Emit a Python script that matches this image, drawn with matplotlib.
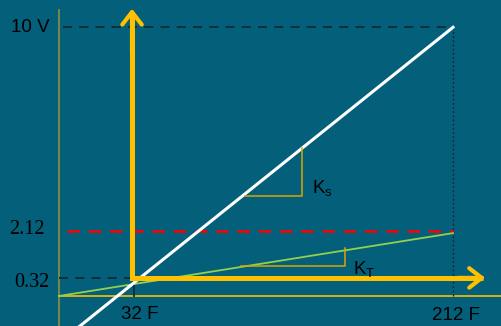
import matplotlib.pyplot as plt

# temperature (F) on x, voltage (V) on y
temp_ticks = [32, 212]
temp_labels = ["32 F", "212 F"]
volt_ticks = [0.32, 2.12, 10]
volt_labels = ["0.32", "2.12", "10 V"]

# origin of the drawing (thin axis lines)
t_axis = -9.0
v_axis = -0.38

# sensor (white) and transmitter (green) characteristics
sensor_T = [2.8, 212]
sensor_V = [-1.54, 10]
trans_T = [-9.0, 212]
trans_V = [-0.38, 2.05]

# slope triangles: (t_start, t_end, v_low, v_high)
ks_tri = (95.4, 127.3, 3.48, 5.34)
kt_tri = (93.1, 151.4, 0.78, 1.475)

bg = "#04607a"
yellow = "#ffc000"
dark = "#0f2a33"
gold = "#d9a400"

fig = plt.figure(figsize=(5.01, 3.26), dpi=100, facecolor=bg)
ax = fig.add_axes([0, 0, 1, 1])
ax.set_xlim(-42.02, 238.9)
ax.set_ylim(-1.538, 11.055)
ax.axis("off")

# thin axes
ax.axvline(t_axis, ymin=0, ymax=0.97, color="#8f8f3c", lw=1.2)
ax.axhline(v_axis, xmin=0.118, xmax=1, color=yellow, lw=1.2)

# reference lines
ax.plot([-6.7, temp_ticks[1]], [volt_ticks[2]] * 2, color=dark, lw=1.3, ls=(0, (5, 4)))
ax.plot([t_axis, temp_ticks[0]], [volt_ticks[0]] * 2, color=dark, lw=1.3, ls=(0, (5, 4)))
ax.plot([temp_ticks[1]] * 2, [v_axis, volt_ticks[2]], color=dark, lw=1, ls=(0, (1.5, 1.5)))
ax.plot([temp_ticks[0] + 1] * 2, [v_axis, volt_ticks[0]], color=dark, lw=1.3)
ax.plot([-4.4, temp_ticks[1]], [volt_ticks[1]] * 2, color="#ff0000", lw=1.8, ls=(0, (5, 3.5)))

# characteristics
ax.plot(trans_T, trans_V, color="#92d050", lw=1.3)
ax.plot(sensor_T, sensor_V, color="white", lw=2.2)

# slope triangles
for t0, t1, v0, v1 in [ks_tri, kt_tri]:
    ax.plot([t0, t1, t1], [v0, v0, v1], color=gold, lw=1.1)

# thick yellow axes with arrowheads
ax.plot([temp_ticks[0], temp_ticks[0], 229], [10.6, volt_ticks[0], volt_ticks[0]],
        color=yellow, lw=3.6, solid_joinstyle="miter", solid_capstyle="butt")
arrow = dict(arrowstyle="->,head_length=0.45,head_width=0.35", lw=3.0, color=yellow,
             shrinkA=0, shrinkB=0, mutation_scale=20)
ax.annotate("", xy=(temp_ticks[0], 10.72), xytext=(temp_ticks[0], 9.0), arrowprops=arrow)
ax.annotate("", xy=(230, volt_ticks[0]), xytext=(215, volt_ticks[0]), arrowprops=arrow)

# labels
sans = "Liberation Sans"
serif = "Liberation Serif"
ax.text(-14.0, volt_ticks[2], volt_labels[2], ha="right", va="center", fontsize=13.5, family=sans, color="black")
ax.text(-17.0, 2.2, volt_labels[1], ha="right", va="center", fontsize=14.5, family=serif, color="black")
ax.text(-14.5, 0.15, volt_labels[0], ha="right", va="center", fontsize=14.5, family=serif, color="black")
ax.text(temp_ticks[0] + 4.5, -1.08, temp_labels[0], ha="center", va="center", fontsize=13.5, family=sans, color="black")
ax.text(temp_ticks[1] + 1.5, -1.15, temp_labels[1], ha="center", va="center", fontsize=13.5, family=sans, color="black")
ax.text(133, 3.75, r"K$_\mathregular{s}$", ha="left", va="center", fontsize=13.5, family=sans, color="black")
ax.text(156, 0.62, r"K$_\mathregular{T}$", ha="left", va="center", fontsize=13.5, family=sans, color="black")

fig.savefig("out.png", dpi=100, facecolor=bg)
